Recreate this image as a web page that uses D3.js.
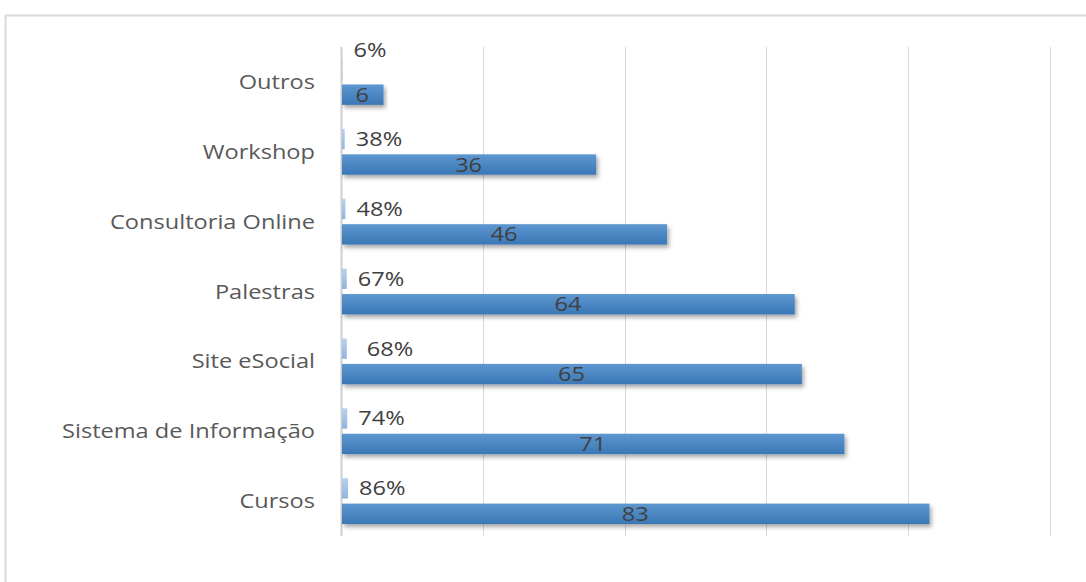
<!DOCTYPE html>
<html>
<head>
<meta charset="utf-8">
<script src="https://cdn.jsdelivr.net/npm/d3@7"></script>
<style>
  body { margin: 0; background: #fff; }
  svg text { font-family: "Open Sans", "DejaVu Sans", sans-serif; }
</style>
</head>
<body>
<div id="chart"></div>
<script>
// data, top to bottom
var categories = ['Outros', 'Workshop', 'Consultoria Online', 'Palestras', 'Site eSocial', 'Sistema de Informação', 'Cursos'];
var percents = [6, 38, 48, 67, 68, 74, 86];      // shown as %, plotted as fraction
var counts = [6, 36, 46, 64, 65, 71, 83];
var xTicks = [0, 20, 40, 60, 80, 100];

var width = 1086, height = 582;
var plot = { left: 341, right: 1050, top: 47, bottom: 536 };
var fontSize = 20, stretch = 1.18;   // source picture text is a bit wide

var svg = d3.select('#chart').append('svg')
    .attr('width', width)
    .attr('height', height);

var defs = svg.append('defs');
var g1 = defs.append('linearGradient').attr('id', 'gBlue').attr('x1', 0).attr('y1', 0).attr('x2', 0).attr('y2', 1);
g1.append('stop').attr('offset', '0%').attr('stop-color', '#5e97d0');
g1.append('stop').attr('offset', '100%').attr('stop-color', '#3a77b6');
var g2 = defs.append('linearGradient').attr('id', 'gLight').attr('x1', 0).attr('y1', 0).attr('x2', 0).attr('y2', 1);
g2.append('stop').attr('offset', '0%').attr('stop-color', '#b9d2ee');
g2.append('stop').attr('offset', '100%').attr('stop-color', '#8fb4e0');
var sh = defs.append('filter').attr('id', 'shadow').attr('x', '-5%').attr('y', '-30%').attr('width', '115%').attr('height', '180%');
sh.append('feDropShadow').attr('dx', 2).attr('dy', 3).attr('stdDeviation', 2.2)
    .attr('flood-color', '#000').attr('flood-opacity', 0.35);

// outer frame (cropped at right/bottom)
svg.append('path')
    .attr('d', 'M5.5,' + height + 'V15.5H' + width)
    .attr('fill', 'none')
    .attr('stroke', '#d9d9d9')
    .attr('stroke-width', 2);

var x = d3.scaleLinear().domain([0, 100]).range([plot.left, plot.right]);
var y = d3.scaleBand().domain(categories).range([plot.top, plot.bottom]);
var inner = d3.scaleBand().domain(['pct', 'cnt']).range([12, y.bandwidth() - 12]).paddingInner(0.2);

// place a stretched text label
function label(sel, fx, fy, anchor, fill, txt) {
    sel.append('text')
        .attr('transform', function (d, i) { return 'translate(' + fx(d, i) + ',' + fy(d, i) + ') scale(' + stretch + ',1)'; })
        .attr('dy', '0.35em')
        .attr('text-anchor', anchor)
        .attr('font-size', fontSize)
        .attr('fill', fill)
        .text(txt);
}

// gridlines
svg.append('g').selectAll('line').data(xTicks).enter().append('line')
    .attr('x1', function (d) { return Math.round(x(d)) + 0.5; })
    .attr('x2', function (d) { return Math.round(x(d)) + 0.5; })
    .attr('y1', plot.top)
    .attr('y2', plot.bottom)
    .attr('stroke', function (d) { return d === 0 ? '#cfcfcf' : '#d9d9d9'; })
    .attr('stroke-width', function (d) { return d === 0 ? 2 : 1; });

var rows = svg.append('g').selectAll('g.row').data(categories).enter().append('g')
    .attr('class', 'row')
    .attr('transform', function (d) { return 'translate(0,' + y(d) + ')'; });

// category labels
label(rows, function () { return 315; }, function () { return y.bandwidth() / 2; },
    'end', '#595959', function (d) { return d; });

// percentage bars
rows.append('rect')
    .attr('x', x(0) + 1)
    .attr('y', inner('pct'))
    .attr('height', inner.bandwidth())
    .attr('width', function (d, i) { return Math.max(0, x(percents[i] / 100) - x(0)); })
    .attr('fill', 'url(#gLight)');

label(rows,
    function (d, i) { return x(percents[i] / 100) + (i === 4 ? 21 : 12); },
    function (d, i) { return inner('pct') + inner.bandwidth() / 2 - (i === 0 ? 19 : 0); },
    'start', '#404040', function (d, i) { return percents[i] + '%'; });

// count bars
rows.append('rect')
    .attr('x', x(0) + 1)
    .attr('y', inner('cnt'))
    .attr('height', inner.bandwidth())
    .attr('width', function (d, i) { return x(counts[i]) - x(0) - 1; })
    .attr('fill', 'url(#gBlue)')
    .attr('filter', 'url(#shadow)');

label(rows,
    function (d, i) { return (x(0) + x(counts[i])) / 2; },
    function () { return inner('cnt') + inner.bandwidth() / 2; },
    'middle', '#404040', function (d, i) { return counts[i]; });
</script>
</body>
</html>
